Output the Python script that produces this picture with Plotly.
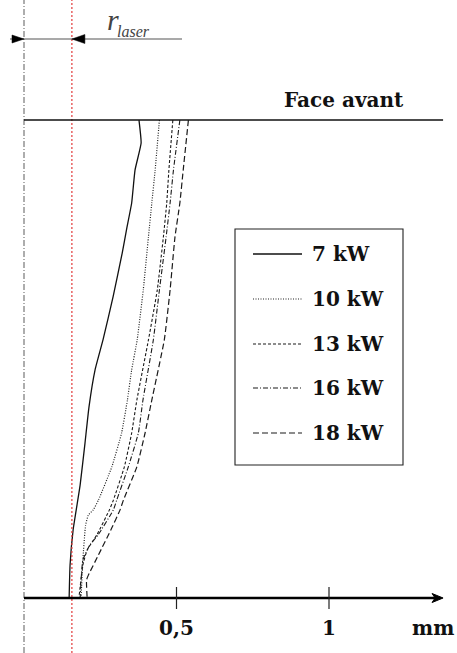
import plotly.graph_objects as go

# Bead profiles: lateral position x (mm) versus height above the rear face (mm)
series_names = ["7 kW", "10 kW", "13 kW", "16 kW", "18 kW"]

x_7kw = [0.377, 0.384, 0.364, 0.353, 0.336, 0.322, 0.292, 0.259, 0.233,
         0.213, 0.200, 0.184, 0.161, 0.151, 0.148]
y_7kw = [1.567, 1.492, 1.403, 1.295, 1.207, 1.131, 0.987, 0.846, 0.748,
         0.626, 0.508, 0.370, 0.223, 0.108, 0.0]

x_10kw = [0.444, 0.430, 0.419, 0.408, 0.391, 0.371, 0.353, 0.339, 0.320,
          0.288, 0.244, 0.227, 0.211, 0.202, 0.193, 0.187]
y_10kw = [1.567, 1.403, 1.295, 1.184, 1.010, 0.846, 0.748, 0.649, 0.541,
          0.430, 0.321, 0.289, 0.272, 0.239, 0.125, 0.0]

x_13kw = [0.488, 0.475, 0.468, 0.457, 0.437, 0.408, 0.370, 0.353, 0.329,
          0.293, 0.280, 0.239, 0.207, 0.193, 0.180]
y_13kw = [1.567, 1.403, 1.295, 1.184, 1.010, 0.846, 0.649, 0.541, 0.430,
          0.321, 0.289, 0.207, 0.157, 0.108, 0.0]

x_16kw = [0.511, 0.490, 0.479, 0.466, 0.444, 0.424, 0.390, 0.375, 0.342,
          0.304, 0.293, 0.243, 0.216, 0.193, 0.184]
y_16kw = [1.567, 1.403, 1.295, 1.184, 1.010, 0.846, 0.649, 0.541, 0.430,
          0.321, 0.289, 0.207, 0.174, 0.125, 0.0]

x_18kw = [0.539, 0.522, 0.511, 0.495, 0.479, 0.460, 0.419, 0.397, 0.370,
          0.326, 0.315, 0.288, 0.244, 0.211, 0.205, 0.207]
y_18kw = [1.567, 1.403, 1.295, 1.184, 1.010, 0.846, 0.649, 0.541, 0.430,
          0.321, 0.289, 0.230, 0.141, 0.075, 0.059, 0.0]

tick_values = [0.5, 1.0]
tick_labels = ["0,5", "1"]
r_laser = 0.157          # laser spot radius (mm)
thickness = 1.567        # height of the front face (mm)
x_axis_end = 1.374       # end of the horizontal axis arrow (mm)

series_x = [x_7kw, x_10kw, x_13kw, x_16kw, x_18kw]
series_y = [y_7kw, y_10kw, y_13kw, y_16kw, y_18kw]
dashes = ["solid", "1px,1.5px", "3px,2px", "5px,2px,1px,2px", "6px,3px"]
colors = ["#111111", "#222222", "#1a1a1a", "#1a1a1a", "#1a1a1a"]
widths = [1.3, 1.2, 1.1, 1.1, 1.2]

W, H = 457, 653
S = 305.0       # pixels per mm
X0, Y0 = 24, 598  # pixel position of the origin


def px(x):
    return (x - X0) / S


def py(y):
    return (Y0 - y) / S


fig = go.Figure()
for xs, ys, d, c, w in zip(series_x, series_y, dashes, colors, widths):
    fig.add_trace(go.Scatter(x=xs, y=ys, mode="lines",
                             line=dict(color=c, width=w, dash=d, shape="spline", smoothing=0.4),
                             hoverinfo="skip", showlegend=False))

shapes = []
# reference lines: beam axis and laser radius
shapes.append(dict(type="line", x0=0, x1=0, y0=py(H), y1=py(0),
                   line=dict(color="#777777", width=1.2, dash="6px,2px,1px,2px")))
shapes.append(dict(type="line", x0=r_laser, x1=r_laser, y0=py(H), y1=py(0),
                   line=dict(color="#e23a3a", width=1.2, dash="2px,2px")))
# front face line
shapes.append(dict(type="line", x0=0, x1=x_axis_end, y0=thickness, y1=thickness,
                   line=dict(color="#111111", width=1.4)))
# horizontal axis
shapes.append(dict(type="line", x0=0, x1=x_axis_end - 6 / S, y0=0, y1=0,
                   line=dict(color="#000000", width=2.6)))
shapes.append(dict(type="path",
                   path=f"M {x_axis_end} 0 L {x_axis_end - 11 / S} {4.5 / S} "
                        f"L {x_axis_end - 8 / S} 0 L {x_axis_end - 11 / S} {-4.5 / S} Z",
                   fillcolor="#000000", line=dict(color="#000000", width=1)))
for tv in tick_values:
    shapes.append(dict(type="line", x0=tv, x1=tv, y0=-11 / S, y1=11 / S,
                       line=dict(color="#222222", width=1.2)))

# r_laser dimension arrows
yr = py(39)
shapes.append(dict(type="line", x0=px(10), x1=px(182), y0=yr, y1=yr,
                   line=dict(color="#555555", width=1.2)))
shapes.append(dict(type="path",
                   path=f"M 0 {yr} L {-12 / S} {yr + 4 / S} L {-12 / S} {yr - 4 / S} Z",
                   fillcolor="#000000", line=dict(color="#000000", width=0.5)))
shapes.append(dict(type="path",
                   path=f"M {r_laser} {yr} L {r_laser + 13 / S} {yr + 4.5 / S} "
                        f"L {r_laser + 13 / S} {yr - 4.5 / S} Z",
                   fillcolor="#000000", line=dict(color="#000000", width=0.5)))

# legend box and samples
shapes.append(dict(type="rect", x0=px(235), x1=px(403), y0=py(229), y1=py(465),
                   line=dict(color="#222222", width=1.1), fillcolor="rgba(0,0,0,0)"))
legend_rows = [254, 299, 344, 388, 433]
for row, d, c, w in zip(legend_rows, dashes, colors, widths):
    shapes.append(dict(type="line", x0=px(253), x1=px(302), y0=py(row), y1=py(row),
                       line=dict(color=c, width=w, dash=d)))

bold = dict(family="DejaVu Serif", size=20, color="#111111", weight="bold")
annotations = []
for row, name in zip(legend_rows, series_names):
    annotations.append(dict(x=px(310), y=py(row), text=name, showarrow=False,
                            xanchor="left", yanchor="middle", font=bold))
annotations.append(dict(x=px(282), y=py(100), text="Face avant", showarrow=False,
                        xanchor="left", yanchor="middle", font=bold))
for tv, tl in zip(tick_values, tick_labels):
    annotations.append(dict(x=tv, y=py(628), text=tl, showarrow=False,
                            xanchor="center", yanchor="middle", font=bold))
annotations.append(dict(x=px(433), y=py(628), text="mm", showarrow=False,
                        xanchor="center", yanchor="middle", font=bold))
annotations.append(dict(x=px(105), y=py(19), text="r", showarrow=False,
                        xanchor="left", yanchor="middle",
                        font=dict(family="Liberation Serif", size=30, color="#444444", style="italic")))
annotations.append(dict(x=px(115), y=py(31), text="laser", showarrow=False,
                        xanchor="left", yanchor="middle",
                        font=dict(family="Liberation Serif", size=16, color="#444444", style="italic")))

fig.update_layout(
    width=W, height=H,
    margin=dict(l=0, r=0, t=0, b=0),
    paper_bgcolor="white", plot_bgcolor="white",
    xaxis=dict(range=[px(0), px(W)], visible=False, fixedrange=True),
    yaxis=dict(range=[py(H), py(0)], visible=False, fixedrange=True),
    shapes=shapes, annotations=annotations, showlegend=False,
)

fig.write_html("out.html")
